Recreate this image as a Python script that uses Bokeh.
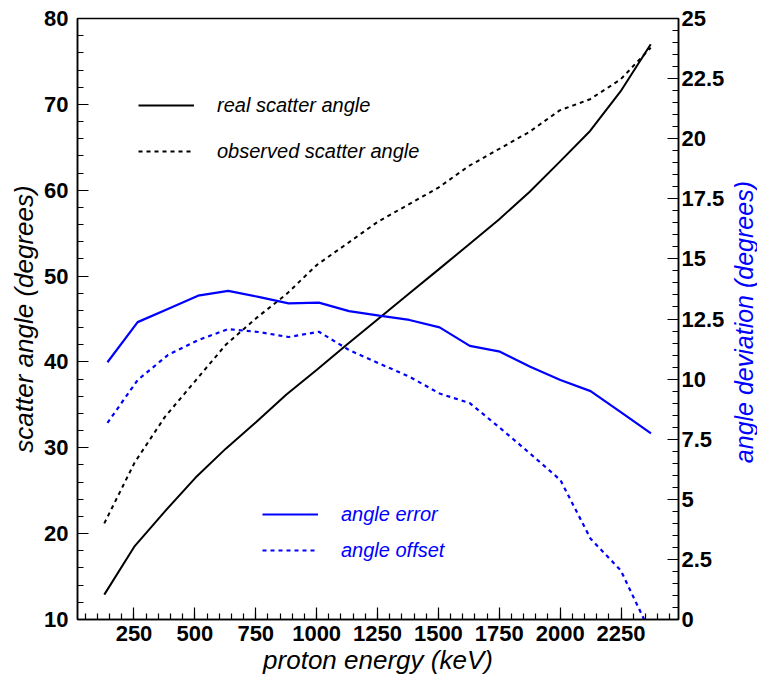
import math
from bokeh.plotting import figure
from bokeh.layouts import row
from bokeh.models import Range1d, LinearAxis, SingleIntervalTicker, Legend, LegendItem
from bokeh.core.properties import value
from bokeh.embed import file_html
from bokeh.resources import INLINE

# ---- data ----
energy_angle = [128, 253, 377, 502, 627, 752, 876, 1001, 1126, 1250,
                1375, 1500, 1624, 1749, 1874, 1998, 2123, 2248, 2372]
real_angle = [12.9, 18.55, 22.6, 26.5, 29.9, 33.0, 36.2, 39.1, 42.05, 44.95,
              47.85, 50.75, 53.65, 56.6, 59.8, 63.3, 66.9, 71.5, 77.0]
observed_angle = [21.2, 28.3, 33.6, 37.8, 42.0, 45.1, 47.9, 51.3, 53.8, 56.3,
                  58.3, 60.3, 62.8, 64.8, 66.8, 69.3, 70.6, 72.9, 76.6]

energy_dev = [141, 265, 389, 513, 637, 761, 885, 1009, 1133, 1257,
              1381, 1505, 1629, 1753, 1877, 2001, 2125, 2249, 2373]
angle_error = [10.7, 12.37, 12.92, 13.47, 13.67, 13.42, 13.15, 13.18, 12.83, 12.64,
               12.46, 12.15, 11.38, 11.14, 10.51, 9.96, 9.5, 8.63, 7.74]
angle_offset = [8.18, 9.96, 11.0, 11.62, 12.08, 11.96, 11.75, 11.97, 11.21, 10.65,
                10.1, 9.4, 9.0, 7.97, 6.9, 5.8, 3.36, 2.04, -0.6]

dev_ticks = [0, 2.5, 5, 7.5, 10, 12.5, 15, 17.5, 20, 22.5, 25]
dev_tick_labels = ["0", "2.5", "5", "7.5", "10", "12.5", "15", "17.5", "20", "22.5", "25"]

x_title = "proton energy (keV)"
y_title = "scatter angle (degrees)"
y2_title = "angle deviation (degrees)"

FONT = "Liberation Sans"
BLUE = "#0000ff"

p = figure(width=727, height=677, output_backend="svg", toolbar_location=None,
           x_range=Range1d(18, 2486), y_range=Range1d(10, 80),
           min_border_left=77, min_border_right=46, min_border_top=18, min_border_bottom=58,
           background_fill_color="white", border_fill_color="white")
p.xgrid.visible = False
p.ygrid.visible = False
p.outline_line_color = "black"
p.outline_line_width = 1.5

p.extra_y_ranges = {"dev": Range1d(0, 25)}
right_axis = LinearAxis(y_range_name="dev",
                        ticker=SingleIntervalTicker(interval=2.5, num_minor_ticks=5))
right_axis.major_label_overrides = {t: s for t, s in zip(dev_ticks, dev_tick_labels)}
p.add_layout(right_axis, "right")

p.xaxis.ticker = SingleIntervalTicker(interval=250, num_minor_ticks=5)
p.yaxis[0].ticker = SingleIntervalTicker(interval=10, num_minor_ticks=5)
p.xaxis.axis_label = x_title
p.yaxis[0].axis_label = y_title

for ax in [p.xaxis[0], p.yaxis[0], right_axis]:
    ax.axis_line_color = "black"
    ax.axis_line_width = 1.5
    ax.major_tick_line_color = "black"
    ax.minor_tick_line_color = "black"
    ax.major_tick_line_width = 1.2
    ax.minor_tick_line_width = 1.2
    ax.major_tick_in = 11
    ax.major_tick_out = 0
    ax.minor_tick_in = 6
    ax.minor_tick_out = 0
    ax.major_label_text_font = FONT
    ax.major_label_text_font_style = "bold"
    ax.major_label_text_font_size = "22px"
    ax.major_label_text_color = "black"
    ax.major_label_standoff = 4
    ax.axis_label_text_font = FONT
    ax.axis_label_text_font_style = "italic"
    ax.axis_label_text_font_size = "26px"
    ax.axis_label_standoff = 0
    ax.axis_label_text_color = "black"

xa = p.xaxis[0]
xa.major_tick_in = 12
xa.major_label_standoff = 6
xa.axis_label_standoff = 1
p.yaxis[0].major_label_standoff = 9
p.yaxis[0].axis_label_standoff = 2
right_axis.major_label_standoff = 3

r_real = p.line(energy_angle, real_angle, line_color="black", line_width=2)
r_obs = p.line(energy_angle, observed_angle, line_color="black", line_width=2,
               line_dash="4 4")
r_err = p.line(energy_dev, angle_error, line_color=BLUE, line_width=2.2, y_range_name="dev")
r_off = p.line(energy_dev, angle_offset, line_color=BLUE, line_width=2.2, y_range_name="dev",
               line_dash="4 4")

def make_legend(items, loc, spacing, color):
    leg = Legend(items=items, location=loc, spacing=spacing, padding=0, margin=0,
                 glyph_width=56, glyph_height=24, label_height=24, label_standoff=23,
                 border_line_alpha=0, background_fill_alpha=0,
                 label_text_font=FONT, label_text_font_style="italic",
                 label_text_font_size="20px", label_text_color=color)
    return leg

leg1 = make_legend([LegendItem(label="real scatter angle", renderers=[r_real]),
                    LegendItem(label="observed scatter angle", renderers=[r_obs])],
                   (61, 456), 22, "black")
leg2 = make_legend([LegendItem(label="angle error", renderers=[r_err]),
                    LegendItem(label="angle offset", renderers=[r_off])],
                   (185, 57), 12, BLUE)
p.add_layout(leg1)
p.add_layout(leg2)

# narrow strip at the right holding the (upward-reading) right-axis title
p2 = figure(width=30, height=677, output_backend="svg", toolbar_location=None,
            x_range=Range1d(-16, 14), y_range=Range1d(-335, 342),
            min_border=0, x_axis_location=None, y_axis_location=None,
            background_fill_color="white", border_fill_color="white")
p2.outline_line_color = None
p2.xgrid.visible = False
p2.ygrid.visible = False
p2.text(x=[0], y=[0], text=[y2_title], angle=math.pi / 2,
        text_align="center", text_baseline="middle",
        text_font=value(FONT), text_font_style="italic", text_font_size="25px",
        text_color=BLUE)

layout = row(p, p2, spacing=0)
open("out.html", "w").write(file_html(layout, INLINE))
